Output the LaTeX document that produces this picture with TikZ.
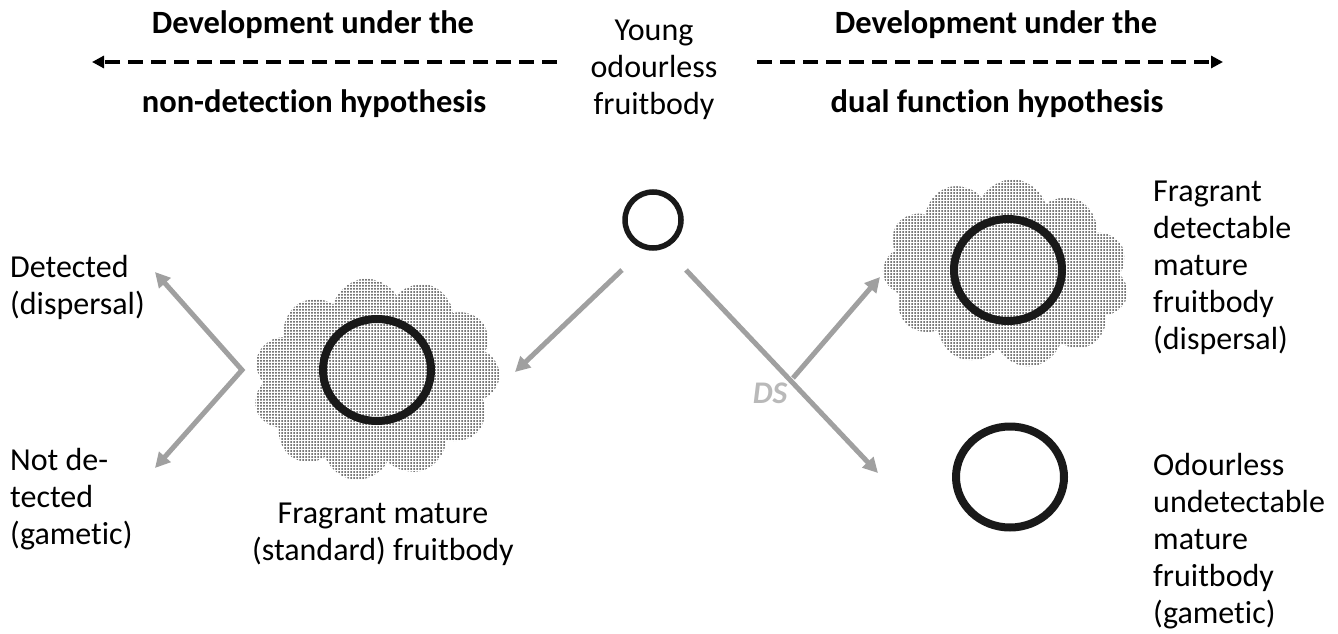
\documentclass[tikz,border=0pt]{standalone}
\usepackage{fontspec}
\setmainfont{Carlito}[Ligatures=NoCommon, RawFeature={-liga;-clig;-dlig}]
\usetikzlibrary{shapes.geometric,shapes.symbols,arrows.meta,patterns.meta}
\definecolor{agray}{RGB}{160,160,160}
\definecolor{dsgray}{RGB}{185,185,185}
\definecolor{ringblack}{RGB}{25,25,25}
\begin{document}
\begin{tikzpicture}[x=1pt,y=-1pt,
  txt/.style={font=\fontsize{32}{37}\selectfont, inner sep=0pt, align=left, anchor=north west},
  ttl/.style={font=\fontsize{32.5}{37}\selectfont\bfseries, inner sep=0pt, anchor=base},
  dasharrow/.style={line width=4pt, dash pattern=on 15pt off 8pt, -{Triangle[length=12pt,width=12pt]}},
  grayarrow/.style={draw=agray, line width=5pt, -{Triangle[length=15pt,width=15pt]}},
  ring/.style={ellipse, draw=ringblack, inner sep=0pt},
  fragcloud/.style={cloud, cloud puffs=11, cloud puff arc=135, draw=none, inner sep=0pt,
    pattern={Dots[distance=3pt, radius=1pt]}, pattern color=black!72},
]
\useasboundingbox (0,0) rectangle (1338,634);

% titles
\node[ttl] (lt1) at (313,34) {Development under the};
\node[ttl] (lt2) at (314,112) {non-detection hypothesis};
\node[ttl] (rt1) at (996,34) {Development under the};
\node[ttl] (rt2) at (997,112) {dual function hypothesis};
\coordinate (la0) at (557,62);
\coordinate (la1) at (92,62);
\coordinate (ra0) at (757,62);
\coordinate (ra1) at (1223,62);
\draw[dasharrow] (la0) -- (la1);
\draw[dasharrow] (ra0) -- (ra1);

% young
\node[txt, align=center, anchor=north] (young) at (654,20) {Young\\odourless\\fruitbody};
\node[ring, line width=5.5pt, minimum width=56pt, minimum height=56pt] (yc) at (653,220) {};

% left cloud
\node[fragcloud, minimum width=248pt, minimum height=202pt, rotate=8] (lcloud) at (376,379) {};
\node[ring, line width=8pt, minimum width=108pt, minimum height=102pt] (lc) at (377,370) {};
\node[txt, align=center, anchor=north] (lcap) at (383,503) {Fragrant mature\\(standard) fruitbody};

% right cloud
\node[fragcloud, minimum width=247pt, minimum height=188pt, rotate=-6] (rcloud) at (1006,273) {};
\node[ring, line width=8pt, minimum width=108pt, minimum height=102pt] (rc) at (1008,270) {};
\node[txt] (rcap) at (1153,181) {Fragrant\\detectable\\mature\\fruitbody\\(dispersal)};

% odourless
\node[ring, line width=8pt, minimum width=108pt, minimum height=101pt] (oc) at (1010,477) {};
\node[txt] (ocap) at (1153,453) {Odourless\\undetectable\\mature\\fruitbody\\(gametic)};

% left outcomes
\node[txt] (det) at (10,255) {Detected\\(dispersal)};
\node[txt] (ndet) at (10,448) {Not de-\\tected\\(gametic)};

% arrows
\coordinate (yl) at (622,270);
\coordinate (yle) at (515,372);
\draw[grayarrow] (yl) -- (yle);
\coordinate (yr) at (686,270);
\coordinate (yre) at (878,473);
\draw[grayarrow] (yr) -- (yre);
\coordinate (br) at (793,378);
\coordinate (bre) at (880,277);
\draw[grayarrow] (br) -- (bre);
\node[font=\fontsize{31.5}{37}\selectfont\bfseries\itshape, text=dsgray, inner sep=0pt] (ds) at (770,393) {DS};

\coordinate (lv) at (242,370);
\coordinate (lvt) at (155,272);
\coordinate (lvb) at (155,468);
\draw[draw=agray, line width=5pt, {Triangle[length=15pt,width=15pt]}-{Triangle[length=15pt,width=15pt]}] (lvt) -- (lv) -- (lvb);
\end{tikzpicture}
\end{document}
